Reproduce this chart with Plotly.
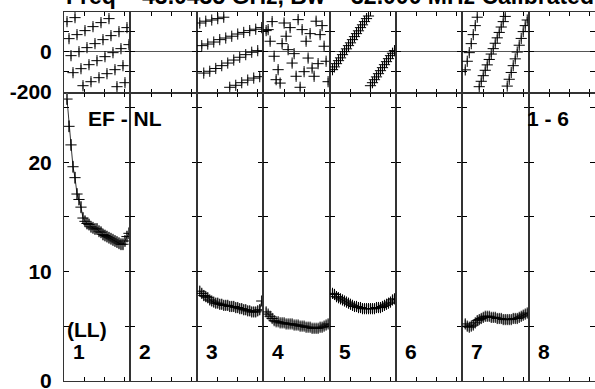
import plotly.graph_objects as go
from plotly.subplots import make_subplots

channels = list(range(1, 33))
if_numbers = ["1", "2", "3", "4", "5", "6", "7", "8"]

amp_if1 = [25.8, 23.3, 21.6, 19.6, 18.6, 17.1, 16.6, 15.9, 14.9, 14.6, 14.4, 14.3, 14.1, 14.0, 13.9, 13.9,
           13.7, 13.6, 13.4, 13.3, 13.2, 13.1, 13.0, 12.9, 12.8, 12.7, 12.6, 12.5, 12.5, 12.8, 13.2, 13.5]
amp_if3 = [8.2, 8.0, 7.8, 7.7, 7.6, 7.4, 7.3, 7.2, 7.1, 7.1, 7.0, 7.0, 6.9, 6.9, 6.9, 6.8,
           6.8, 6.8, 6.7, 6.7, 6.6, 6.6, 6.5, 6.5, 6.4, 6.4, 6.3, 6.3, 6.3, 6.4, 6.5, 7.3]
amp_if4 = [6.3, 6.1, 5.9, 5.7, 5.5, 5.4, 5.4, 5.3, 5.3, 5.3, 5.2, 5.2, 5.2, 5.2, 5.1, 5.1,
           5.1, 5.0, 5.0, 5.0, 4.9, 4.9, 4.9, 4.8, 4.8, 4.8, 4.8, 4.9, 4.9, 5.0, 5.1, 5.2]
amp_if5 = [8.0, 7.9, 7.7, 7.6, 7.5, 7.4, 7.3, 7.2, 7.1, 7.0, 6.9, 6.8, 6.8, 6.7, 6.7, 6.6,
           6.6, 6.6, 6.6, 6.6, 6.6, 6.6, 6.7, 6.7, 6.7, 6.8, 6.9, 7.0, 7.1, 7.2, 7.4, 7.5]
amp_if7 = [5.2, 5.0, 4.9, 5.0, 5.1, 5.3, 5.5, 5.6, 5.7, 5.8, 5.9, 5.9, 5.9, 5.8, 5.8, 5.8,
           5.7, 5.7, 5.7, 5.6, 5.6, 5.6, 5.6, 5.6, 5.7, 5.7, 5.7, 5.8, 5.9, 6.0, 6.1, 6.2]

phase_if1 = [150, 65, -20, -105, 170, 85, 0, -85, -170, 105, 20, -65, -150, 125, 40, -45,
             -130, 145, 60, -25, -110, 165, 80, -5, -90, -175, 100, 15, -70, -155, 120, 35]
phase_if3 = [143, 30, -107, 152, 38, -98, 158, 48, -84, 165, 60, -70, 172, 68, -57, -178,
             77, -42, -168, 88, -28, -155, 96, -15, -142, 105, -3, -132, 112, 5, -125, 120]
phase_if4 = [105, 110, 52, 150, -23, -140, -90, -157, 40, 143, 77, 10, 120, -57, -10, -123,
             160, -178, 110, -100, 52, -32, 90, -82, -123, 152, -60, 85, 130, 27, -48, -150]
phase_if5 = [-90, -76, -60, -45, -31, -15, 0, 14, 30, 44, 60, 75, 90, 104, 120, 134,
             150, 165, 178, -170, -155, -140, -126, -110, -95, -80, -65, -50, -35, -20, -8, 5]
phase_if7 = [-91, -48, -5, 40, 85, 130, 172, -175, -148, -120, -93, -66, -39, -12, 15, 42,
             69, 96, 123, 150, 176, -172, -138, -104, -70, -36, -2, 32, 66, 100, 130, 158]

amp_data = {1: amp_if1, 3: amp_if3, 4: amp_if4, 5: amp_if5, 7: amp_if7}
phase_data = {1: phase_if1, 3: phase_if3, 4: phase_if4, 5: phase_if5, 7: phase_if7}
amp_sigma = {1: 0.55, 3: 0.45, 4: 0.4, 5: 0.4, 7: 0.4}
phase_sigma = {1: 18, 3: 15, 4: 18, 5: 15, 7: 15}

amp_ticks = [0, 5, 10, 15, 20, 25]
amp_ticktext = ["0", "", "10", "", "20", ""]
phase_ticks = [-200, -100, 0, 100, 200]
phase_ticktext = ["-200", "", "0", "", ""]
chan_ticks = [10, 20, 30]

title_text = "Freq = 43.0435 GHz, Bw = 32.000 MHz Calibrated"
baseline_label = "EF - NL"
source_label = "1 - 6"
pol_label = "(LL)"

W, H = 595, 389
LEFT = 64
PW = (W - LEFT) / 8
PH_TOP, PH_BOT, AMP_BOT = 12, 92.5, 380.7

fig = make_subplots(rows=2, cols=8, horizontal_spacing=0, vertical_spacing=0)

FONT = "Liberation Sans"
AXC = "#333333"
tickfont = dict(family=FONT, size=21, color="black", weight="bold")

for c in range(8):
    xd = [(LEFT + c * PW) / W, min(1.0, (LEFT + (c + 1) * PW) / W)]
    for r in (1, 2):
        fig.update_xaxes(domain=xd, range=[-0.5, 32.7], tickvals=chan_ticks, ticks="inside",
                         ticklen=4, tickcolor="black", tickwidth=1, mirror="ticks", showline=True,
                         linecolor=AXC, linewidth=1, showticklabels=False, showgrid=False,
                         zeroline=False, automargin=False, row=r, col=c + 1)
    fig.update_yaxes(domain=[1 - PH_BOT / H, 1 - PH_TOP / H], range=[-204, 198],
                     tickvals=phase_ticks, ticktext=phase_ticktext, ticks="inside", ticklen=5,
                     tickcolor="black", tickwidth=1, mirror="ticks", showline=True, linecolor=AXC,
                     linewidth=1, showgrid=False, zeroline=True, zerolinecolor="#555",
                     zerolinewidth=1.5, showticklabels=(c == 0), ticklabelstandoff=7,
                     ticklabeloverflow="allow", tickfont=tickfont, automargin=False,
                     row=1, col=c + 1)
    fig.update_yaxes(domain=[1 - AMP_BOT / H, 1 - PH_BOT / H], range=[0, 26.4],
                     tickvals=amp_ticks, ticktext=amp_ticktext, ticks="inside", ticklen=5,
                     tickcolor="black", tickwidth=1, mirror="ticks", showline=True, linecolor=AXC,
                     linewidth=1, showgrid=False, zeroline=False, showticklabels=(c == 0),
                     ticklabelstandoff=7, ticklabeloverflow="allow", tickfont=tickfont,
                     automargin=False, row=2, col=c + 1)

for c in range(8):
    k = c + 1
    if k in phase_data:
        fig.add_trace(go.Scatter(x=channels, y=phase_data[k], mode="markers",
                                 marker=dict(symbol="cross-thin", size=8,
                                             line=dict(color="black", width=1)),
                                 error_y=dict(type="constant", value=phase_sigma[k], color="#8c8c8c",
                                              thickness=1.5, width=0),
                                 showlegend=False), row=1, col=k)
        fig.add_trace(go.Scatter(x=channels, y=amp_data[k], mode="lines+markers",
                                 line=dict(color="black", width=0.8),
                                 marker=dict(symbol="cross-thin", size=8,
                                             line=dict(color="black", width=1)),
                                 error_y=dict(type="constant", value=amp_sigma[k], color="#8c8c8c",
                                              thickness=1.5, width=0),
                                 showlegend=False), row=2, col=k)
    else:
        for r in (1, 2):
            fig.add_trace(go.Scatter(x=[None], y=[None], mode="markers", showlegend=False,
                                     hoverinfo="skip"), row=r, col=k)

ann = []
bold = dict(family=FONT, size=21, color="black", weight="bold")
ann.append(dict(x=LEFT / W, y=1 + 4 / H, xref="paper", yref="paper", text=title_text,
                showarrow=False, xanchor="left", yanchor="middle",
                font=dict(family=FONT, size=23, color="black", weight="bold")))
ann.append(dict(x=86 / W, y=1 - 118 / H, xref="paper", yref="paper", text=baseline_label,
                showarrow=False, xanchor="left", yanchor="middle", font=bold))
ann.append(dict(x=525 / W, y=1 - 118 / H, xref="paper", yref="paper", text=source_label,
                showarrow=False, xanchor="left", yanchor="middle", font=bold))
ann.append(dict(x=65 / W, y=1 - 329 / H, xref="paper", yref="paper", text=pol_label,
                showarrow=False, xanchor="left", yanchor="middle", font=bold))
for c, lab in enumerate(if_numbers):
    ann.append(dict(x=(LEFT + c * PW + 7) / W, y=1 - 351 / H, xref="paper", yref="paper",
                    text=lab, showarrow=False, xanchor="left", yanchor="middle", font=bold))

fig.update_layout(width=W, height=H, margin=dict(l=0, r=0, t=0, b=0, autoexpand=False),
                  paper_bgcolor="white", plot_bgcolor="white", annotations=ann,
                  showlegend=False, hovermode=False)

fig.write_html("out.html", config={"displayModeBar": False, "staticPlot": True},
               post_script="document.body.style.margin='0';document.body.style.overflow='hidden';")
